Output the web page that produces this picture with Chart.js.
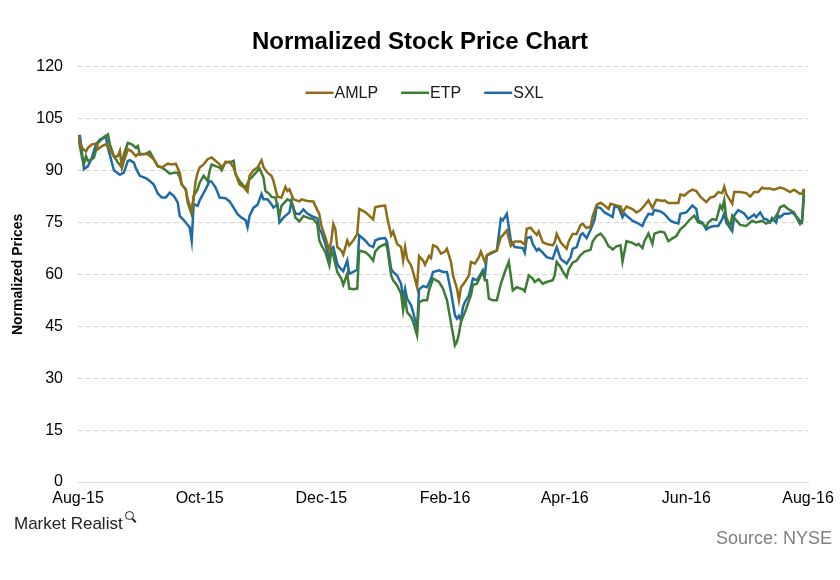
<!DOCTYPE html>
<html>
<head>
<meta charset="utf-8">
<script src="https://cdn.jsdelivr.net/npm/chart.js@4.4.1/dist/chart.umd.min.js"></script>
<style>
  html, body { margin: 0; padding: 0; background: #ffffff; }
  #wrap { position: relative; width: 840px; height: 580px; background: #ffffff; }
  #brand { position: absolute; left: 14px; top: 514px; font-family: "Liberation Sans", Arial, sans-serif; font-size: 17px; color: #222222; white-space: nowrap; }
  #brand .mag { display: inline-block; position: relative; width: 7px; height: 7px; border: 1.6px solid #222; border-radius: 50%; top: -9px; left: 2px; }
  #brand .mag::after { content: ""; position: absolute; width: 1.8px; height: 5px; background: #222; left: 7px; top: 6px; transform: rotate(-45deg); }
  #source { position: absolute; right: 8px; top: 528px; font-family: "Liberation Sans", Arial, sans-serif; font-size: 18px; color: #808080; white-space: nowrap; }
</style>
</head>
<body>
<div id="wrap">
  <canvas id="chart" width="840" height="580"></canvas>
  <div id="brand">Market Realist<span class="mag"></span></div>
  <div id="source">Source: NYSE</div>
</div>
<script>
// ---- Data (days since 1 Aug 2015, normalized price) ----
const seriesNames = ['AMLP', 'ETP', 'SXL'];
const tickDays = [0, 61, 122, 184, 244, 305, 366];
const tickLabels = ['Aug-15', 'Oct-15', 'Dec-15', 'Feb-16', 'Apr-16', 'Jun-16', 'Aug-16'];
const yTicks = [0, 15, 30, 45, 60, 75, 90, 105, 120];

const amlpDays = [0,2,4,5,7,9,10,12,14,16,18,20,21,22,25,27,29,30,33,35,38,40,42,45,47,49,51,52,54,55,57,58,59,60,61,63,65,67,69,71,72,74,76,78,80,81,83,85,86,88,90,92,93,95,97,98,100,102,104,105,106,108,111,112,115,118,119,121,122,124,126,127,128,129,130,132,133,135,136,138,140,141,144,146,148,149,151,154,155,157,158,160,162,163,164,165,167,168,170,171,173,174,176,177,178,180,182,184,185,187,188,190,191,192,194,196,197,199,201,202,204,205,207,210,212,213,215,217,219,222,224,225,227,228,230,231,233,235,238,239,240,242,243,245,246,248,250,252,253,255,257,258,260,262,264,266,267,269,272,273,275,278,280,282,284,286,288,290,293,294,296,301,302,304,306,308,310,312,315,317,319,321,323,324,325,328,329,332,335,337,339,341,343,344,347,349,352,354,357,359,362,363,364];
const amlpValues = [100,96.6,95.5,96.6,97.6,97.8,96.2,97.1,97.6,96.2,94,94.2,95.7,90.9,96.2,95.5,94.2,94.7,94.7,94.7,93.3,91.3,90.9,92,91.8,92,89.4,86,84.6,81.7,78.4,82.2,87,89.4,90.9,91.8,93.3,93.8,92.8,91.8,90.9,92.3,92.6,90.9,87.5,86,85.3,83.9,88.5,90.1,90.9,93,91,89.4,88.5,87,82.4,82.2,85.3,84.1,84.6,81.7,81.1,81.7,81.2,81.1,79.8,77.4,74.1,70.8,66.9,69.8,74.6,73.2,67.9,66.9,65.7,69.8,68.4,69.8,71.7,78.9,78,77,75.9,79.4,79.7,79.9,76.5,71.3,72.4,68.8,67.9,64,67.9,64.5,62.6,60.7,56.3,65.3,64,62.8,65.3,64.7,68.4,67.9,66,66.6,67.4,63.6,59.7,55.9,52.5,56.3,57.8,59.7,63.6,63.1,65,66.6,63.6,65.5,66.3,66.9,70.8,71.3,72.7,68.2,69.5,69.5,68.6,73.2,73.5,72.7,71.4,72.4,69.3,68.8,68.4,69.3,71.7,69.3,68.6,67.4,69.5,71.7,71.7,74.3,74.6,73.4,73.8,76.7,80.1,80.7,79.9,78.9,80.4,80.1,79.6,77.9,79.6,78.9,77.9,78.6,79.9,81.4,79.2,81.6,81.2,81.4,80.6,80.6,83.1,82.8,83.8,84.5,84.1,82.5,80.9,82.2,82.5,83.8,83.5,85.3,83.3,80.4,83.8,83.8,83.5,82.5,83.8,83.8,85.1,84.8,84.8,84.5,85.1,84.8,83.8,84.5,83.3,83.3,84.8];

const etpDays = [0,2,3,4,5,7,8,10,13,15,16,18,20,22,23,25,27,29,30,31,34,36,38,40,42,44,46,48,50,51,52,54,55,57,58,60,61,63,65,66,67,69,71,72,74,76,78,79,81,83,84,86,87,90,91,93,94,96,97,99,101,102,105,107,109,111,113,116,118,120,121,122,124,126,127,128,130,132,133,135,136,138,140,141,144,146,148,149,151,154,155,157,158,160,162,163,164,165,167,168,170,171,173,175,176,178,181,183,185,187,189,190,191,192,194,197,198,200,202,203,204,205,206,208,210,212,214,216,218,220,223,224,226,228,229,231,233,235,238,239,240,242,243,245,246,248,250,252,254,257,258,260,262,264,266,267,268,270,272,273,275,278,280,281,283,284,286,288,289,292,294,296,298,300,302,304,307,309,311,313,315,316,318,320,322,323,324,325,327,328,332,335,338,340,343,345,348,349,351,352,354,356,359,360,362,363,364];
const etpValues = [100,93.8,91.8,94.2,92.8,93.3,93.8,98,99.7,100.5,97.6,94.2,92.3,90.9,94.7,98,97.6,96.6,97.1,94.7,94.9,95.5,93.3,91.3,90.9,90.1,89.1,89.4,89.4,88,86,84.6,80.8,77.4,82.7,84.6,86.5,88.5,87,89.9,91.8,91.3,90.9,90.1,92.6,92.3,92.8,88.9,87,85.6,85.1,87.5,88,89.9,90.7,88,84.1,83.2,82.4,82.2,76.9,79.8,81.7,81.1,76.4,75.3,76.9,76.2,76,74.5,69.8,68.5,66.4,62.6,66.9,65.5,60.7,58.8,57,60.2,55.9,55.7,55.9,66.9,66.4,65.5,64,66.6,67.9,68.8,67.9,59.7,58.3,56.8,54.4,49.6,53.5,49.1,47.7,46.3,42.4,52,52.5,52.5,55.4,58.8,57.8,55.9,52.5,46,39.5,40.5,42.9,46.3,49.1,53.9,57,57.3,59.7,60.7,58.3,58.3,53,52.5,52.5,57.3,60.7,63.7,55.4,56.3,55.7,55.1,59.7,58.8,57.8,58.6,57.3,57.8,58.3,59.7,63.6,62.1,60.9,59.2,61.4,63.4,64,65.6,66.6,67.1,69.5,71.1,71.8,70.4,68.1,67.8,67.2,68.1,68.4,63.7,69.6,69.1,68.4,68.8,67.6,69.6,71.8,68.8,71.8,72.4,72.1,69.6,70.4,71.1,73,74,76,77,75,74.7,73.7,75,76,75.7,79.9,78.9,81.4,76.5,73.7,77,74.3,74,75.5,75,75.5,74.7,75.5,76,77.9,79.4,79.9,78.9,77.9,76.7,74.5,75.3,84.5];

const sxlDays = [0,1,3,5,7,9,11,14,15,18,21,23,25,26,28,29,31,34,36,38,40,42,44,46,48,50,51,53,55,56,57,58,60,61,64,66,67,69,71,74,76,78,80,82,84,85,86,88,90,92,93,95,97,98,100,101,103,106,107,109,111,113,115,117,120,121,122,124,126,127,128,130,131,133,135,136,138,140,141,144,146,148,149,151,154,155,157,158,160,162,163,164,165,167,168,170,171,173,175,177,178,181,183,185,187,189,190,191,192,193,194,196,198,200,202,203,204,205,208,210,212,213,215,217,219,223,224,225,227,228,230,231,233,235,238,240,242,243,245,247,248,250,252,253,255,257,259,260,262,264,266,268,269,271,273,274,275,278,280,283,284,286,288,289,292,294,297,299,301,302,305,308,310,311,313,315,317,319,321,323,324,325,328,329,331,334,336,339,340,342,344,345,347,348,350,351,352,354,356,358,359,362,363,364];
const sxlValues = [100,100,90.4,91.3,93.8,97.6,99,99.7,96.6,90.1,88.8,89.4,92.8,93,92.3,90.7,88.5,87.8,87,86,83.4,82.2,82.2,83.6,82.7,80.8,76.9,75.7,74.3,73.6,69.7,80.3,79.8,81.4,84.6,87,86.8,85.1,82.2,82,81.1,79.3,77.4,76.4,75.7,73.6,76.9,79.3,80.1,83.2,81.7,81.7,80.3,79.3,80.3,75,76.4,77.9,81.1,77.6,77.4,78.8,77.6,76.9,76.2,73.1,72.2,68.8,64.5,67.4,67.9,63.1,62.1,60.9,64,60.2,60.7,61.4,71.3,69.8,68.4,67.9,69.8,70.3,70.5,69.3,61.6,60.7,59.7,57.3,53,55.9,53,51.1,49.1,44.5,55.7,56.6,56.3,58.8,60.7,61.2,60.7,60.7,55,48.2,47.2,48,46.7,50.6,52,53.9,58.8,58.3,60.2,61.2,59.7,65.5,66.3,66.9,76.1,75.6,77.5,69.8,67.9,67.6,66.3,70.5,70.8,68.8,66.9,67.4,66.3,65,64.5,67.9,64.5,64,63.1,65,67.4,67.9,71.4,71.9,70.5,72.9,75.8,79.6,79.2,77.9,77.3,76.6,79.6,79.4,76.5,77.6,77,75.5,75,74,75.5,77.5,77.3,78.6,78.2,77.5,75.5,75,74.7,77.5,77.9,79.9,78.9,75.5,75,73,73.7,74,74,76,77.6,75,72.5,77,78.6,77.6,76,77.3,76.5,77.9,76,76,75,76.3,75,77,76.5,77.5,77.5,77.9,77.5,75.5,75,82.9];

// ---- Build datasets from arrays ----
function toPoints(days, values) {
  return days.map((d, i) => ({ x: d, y: values[i] }));
}
const seriesColors = ['#8E6C17', '#3E7B37', '#1F6BA6'];
const seriesData = [toPoints(amlpDays, amlpValues), toPoints(etpDays, etpValues), toPoints(sxlDays, sxlValues)];

const FONT = '"Liberation Sans", Arial, Helvetica, sans-serif';
Chart.defaults.font.family = FONT;
Chart.defaults.color = '#000000';

// Legend drawn inside the plot area (top, centered)
const inlineLegend = {
  id: 'inlineLegend',
  afterDatasetsDraw(chart, args, opts) {
    const ctx = chart.ctx;
    const area = chart.chartArea;
    ctx.save();
    ctx.font = opts.fontSize + 'px ' + FONT;
    ctx.textBaseline = 'middle';
    ctx.textAlign = 'left';
    const items = chart.data.datasets.map(ds => ({
      text: ds.label, color: ds.borderColor, w: ctx.measureText(ds.label).width
    }));
    const total = items.reduce((s, it) => s + opts.lineLength + opts.textGap + it.w, 0) + opts.itemGap * (items.length - 1);
    let x = chart.width / 2 + opts.centerShift - total / 2;
    const y = area.top + opts.offsetY;
    items.forEach(it => {
      ctx.strokeStyle = it.color;
      ctx.lineWidth = 2.5;
      ctx.beginPath();
      ctx.moveTo(x, y);
      ctx.lineTo(x + opts.lineLength, y);
      ctx.stroke();
      ctx.fillStyle = '#1a1a1a';
      ctx.fillText(it.text, x + opts.lineLength + opts.textGap, y + 1);
      x += opts.lineLength + opts.textGap + it.w + opts.itemGap;
    });
    ctx.restore();
  }
};

new Chart(document.getElementById('chart'), {
  type: 'line',
  data: {
    datasets: seriesNames.map((name, i) => ({
      label: name,
      data: seriesData[i],
      borderColor: seriesColors[i],
      backgroundColor: seriesColors[i],
      borderWidth: 2.5,
      pointRadius: 0,
      pointHoverRadius: 0,
      tension: 0,
      fill: false
    }))
  },
  options: {
    responsive: false,
    animation: false,
    events: [],
    layout: { padding: 0 },
    plugins: {
      legend: { display: false },
      tooltip: { enabled: false },
      title: {
        display: true,
        text: 'Normalized Stock Price Chart',
        color: '#000000',
        font: { size: 24, weight: 'bold' },
        padding: { top: 28, bottom: 10 }
      },
      inlineLegend: { fontSize: 16, lineLength: 28, textGap: 1, itemGap: 23, offsetY: 26, centerShift: 4.5 }
    },
    scales: {
      x: {
        type: 'linear',
        min: 0,
        max: 366,
        grid: { display: false, drawTicks: false },
        border: { display: true, color: '#d9d9d9', width: 1 },
        ticks: {
          autoSkip: false,
          maxRotation: 0,
          padding: 7,
          color: '#000000',
          font: { size: 16 },
          callback: (v) => { const k = tickDays.indexOf(v); return k >= 0 ? tickLabels[k] : ''; }
        },
        afterBuildTicks: (scale) => { scale.ticks = tickDays.map(v => ({ value: v })); },
        afterFit: (scale) => { scale.height = 98; scale.paddingRight = 32; }
      },
      y: {
        min: 0,
        max: 120,
        grid: { display: true, drawTicks: false, color: '#d4d4d4', lineWidth: 1 },
        border: { display: false, dash: [5, 3] },
        ticks: {
          stepSize: 15,
          padding: 15,
          color: '#000000',
          font: { size: 16 }
        },
        afterBuildTicks: (scale) => { scale.ticks = yTicks.map(v => ({ value: v })); },
        title: {
          display: true,
          text: 'Normalized Prices',
          color: '#000000',
          font: { size: 14, weight: 'bold' },
          padding: { top: 10, bottom: 0 }
        },
        afterFit: (scale) => { scale.width = 78; }
      }
    }
  },
  plugins: [inlineLegend]
});
</script>
</body>
</html>
